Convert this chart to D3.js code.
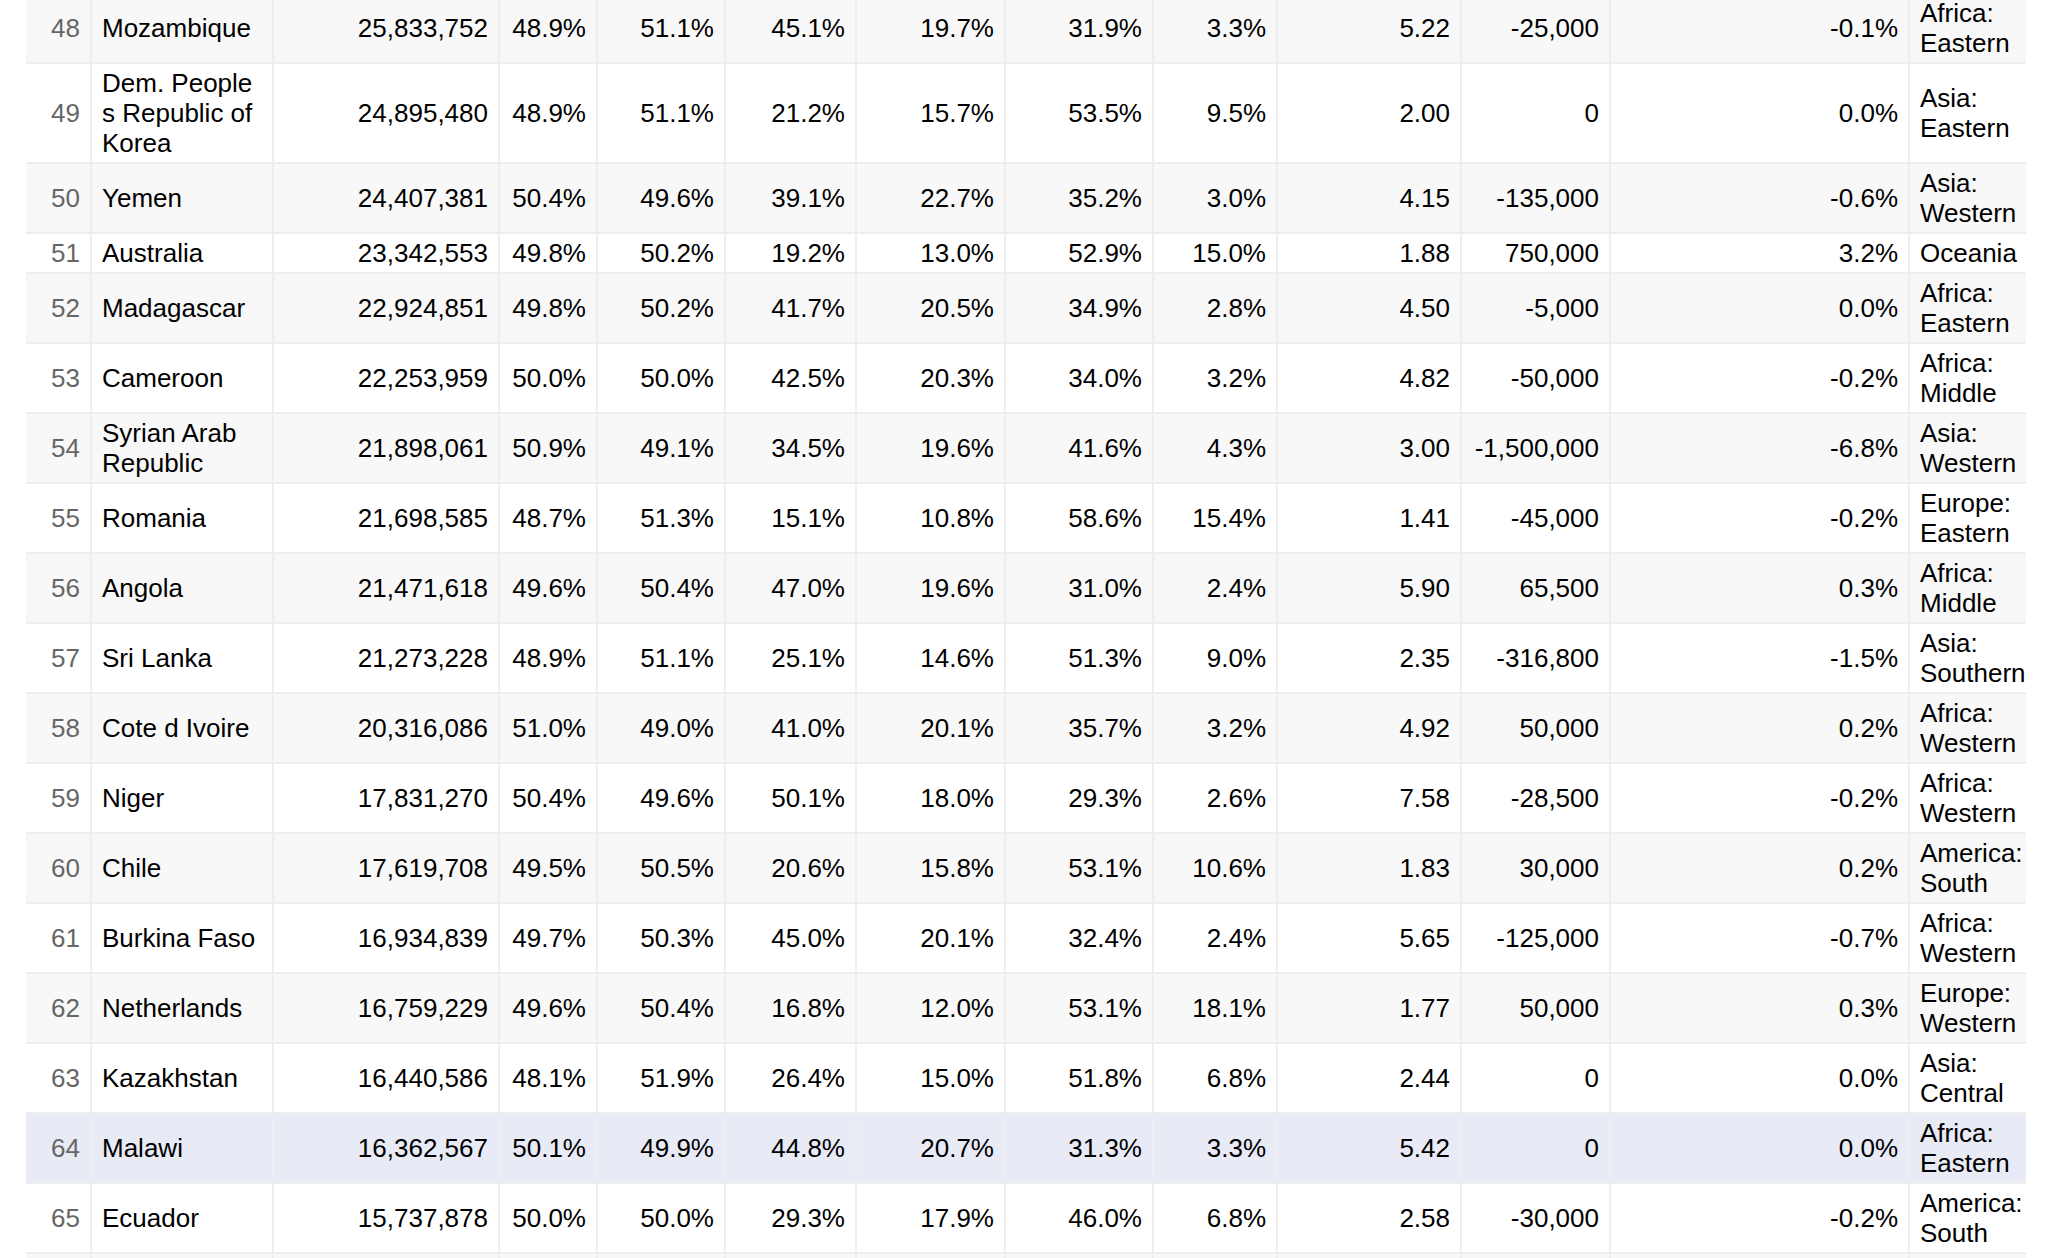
<!DOCTYPE html>
<html>
<head>
<meta charset="utf-8">
<script src="https://cdn.jsdelivr.net/npm/d3@7"></script>
<style>
  html, body { margin: 0; padding: 0; background: #fff; overflow: hidden; }
  #table-wrap { position: absolute; left: 26px; top: -6px; width: 2000px; overflow: hidden; }
  table {
    border-collapse: separate;
    border-spacing: 0;
    table-layout: fixed;
    font-family: "Liberation Sans", Arial, Helvetica, sans-serif;
    font-size: 26px;
    line-height: 30px;
    color: #000;
  }
  td {
    padding: 4px 10px;
    border-right: 2px solid #eee;
    border-bottom: 2px solid #eee;
    vertical-align: middle;
    overflow: hidden;
  }
  td:last-child { border-right: none; }
  tr.odd td { background: #f8f8f8; }
  tr.sel td { background: #e8eaf6; }
  td.seq { color: #666; }
</style>
</head>
<body>
<div id="table-wrap"></div>
<script>
// rows 48-65 of the country table
const ranks = [48, 49, 50, 51, 52, 53, 54, 55, 56, 57, 58, 59, 60, 61, 62, 63, 64, 65];
const countries = [
  "Mozambique", "Dem. People s Republic of Korea", "Yemen", "Australia", "Madagascar",
  "Cameroon", "Syrian Arab Republic", "Romania", "Angola", "Sri Lanka", "Cote d Ivoire",
  "Niger", "Chile", "Burkina Faso", "Netherlands", "Kazakhstan", "Malawi", "Ecuador"
];
const populations = [
  25833752, 24895480, 24407381, 23342553, 22924851, 22253959, 21898061, 21698585, 21471618,
  21273228, 20316086, 17831270, 17619708, 16934839, 16759229, 16440586, 16362567, 15737878
];
const malePct = [48.9, 48.9, 50.4, 49.8, 49.8, 50.0, 50.9, 48.7, 49.6, 48.9, 51.0, 50.4, 49.5, 49.7, 49.6, 48.1, 50.1, 50.0];
const femalePct = [51.1, 51.1, 49.6, 50.2, 50.2, 50.0, 49.1, 51.3, 50.4, 51.1, 49.0, 49.6, 50.5, 50.3, 50.4, 51.9, 49.9, 50.0];
const age0to14 = [45.1, 21.2, 39.1, 19.2, 41.7, 42.5, 34.5, 15.1, 47.0, 25.1, 41.0, 50.1, 20.6, 45.0, 16.8, 26.4, 44.8, 29.3];
const age15to24 = [19.7, 15.7, 22.7, 13.0, 20.5, 20.3, 19.6, 10.8, 19.6, 14.6, 20.1, 18.0, 15.8, 20.1, 12.0, 15.0, 20.7, 17.9];
const age25to64 = [31.9, 53.5, 35.2, 52.9, 34.9, 34.0, 41.6, 58.6, 31.0, 51.3, 35.7, 29.3, 53.1, 32.4, 53.1, 51.8, 31.3, 46.0];
const age65plus = [3.3, 9.5, 3.0, 15.0, 2.8, 3.2, 4.3, 15.4, 2.4, 9.0, 3.2, 2.6, 10.6, 2.4, 18.1, 6.8, 3.3, 6.8];
const fertility = [5.22, 2.00, 4.15, 1.88, 4.50, 4.82, 3.00, 1.41, 5.90, 2.35, 4.92, 7.58, 1.83, 5.65, 1.77, 2.44, 5.42, 2.58];
const migrants = [
  -25000, 0, -135000, 750000, -5000, -50000, -1500000, -45000, 65500,
  -316800, 50000, -28500, 30000, -125000, 50000, 0, 0, -30000
];
const growthPct = [-0.1, 0.0, -0.6, 3.2, 0.0, -0.2, -6.8, -0.2, 0.3, -1.5, 0.2, -0.2, 0.2, -0.7, 0.3, 0.0, 0.0, -0.2];
const regions = [
  "Africa: Eastern", "Asia: Eastern", "Asia: Western", "Oceania", "Africa: Eastern",
  "Africa: Middle", "Asia: Western", "Europe: Eastern", "Africa: Middle", "Asia: Southern",
  "Africa: Western", "Africa: Western", "America: South", "Africa: Western", "Europe: Western",
  "Asia: Central", "Africa: Eastern", "America: South"
];
const selectedRank = 64;

// plain hyphen for negatives, like the original table
const locale = d3.formatLocale({ decimal: ".", thousands: ",", grouping: [3], currency: ["$", ""], minus: "-" });
const fmtInt = locale.format(",");
const fmtPct = (v) => locale.format(".1f")(v) + "%";
const fmtFert = locale.format(".2f");

const columns = [
  { values: ranks, fmt: String, align: "right", width: 66, cls: "seq" },
  { values: countries, fmt: String, align: "left", width: 182 },
  { values: populations, fmt: fmtInt, align: "right", width: 226 },
  { values: malePct, fmt: fmtPct, align: "right", width: 98 },
  { values: femalePct, fmt: fmtPct, align: "right", width: 128 },
  { values: age0to14, fmt: fmtPct, align: "right", width: 131 },
  { values: age15to24, fmt: fmtPct, align: "right", width: 149 },
  { values: age25to64, fmt: fmtPct, align: "right", width: 148 },
  { values: age65plus, fmt: fmtPct, align: "right", width: 124 },
  { values: fertility, fmt: fmtFert, align: "right", width: 184 },
  { values: migrants, fmt: fmtInt, align: "right", width: 149 },
  { values: growthPct, fmt: fmtPct, align: "right", width: 299 },
  { values: regions, fmt: String, align: "left", width: 140 }
];

const rows = ranks.map((r, i) => ({ rank: r, index: i }));

const table = d3.select("#table-wrap")
  .append("table")
  .style("width", d3.sum(columns, (c) => c.width) + "px");

table.append("colgroup")
  .selectAll("col")
  .data(columns)
  .join("col")
  .style("width", (c) => c.width + "px");

const tbody = table.append("tbody");

tbody.selectAll("tr")
  .data(rows)
  .join("tr")
  .attr("class", (d) => (d.rank === selectedRank ? "sel" : d.rank % 2 === 0 ? "odd" : "even"))
  .selectAll("td")
  .data((d) => columns.map((c) => ({ col: c, value: c.values[d.index] })))
  .join("td")
  .attr("class", (d) => d.col.cls || null)
  .style("text-align", (d) => d.col.align)
  .text((d) => d.col.fmt(d.value));

// next row peeks in at the bottom edge (cut off by the window)
tbody.append("tr")
  .attr("class", "odd")
  .selectAll("td")
  .data(columns)
  .join("td")
  .html("&nbsp;<br>&nbsp;");
</script>
</body>
</html>
